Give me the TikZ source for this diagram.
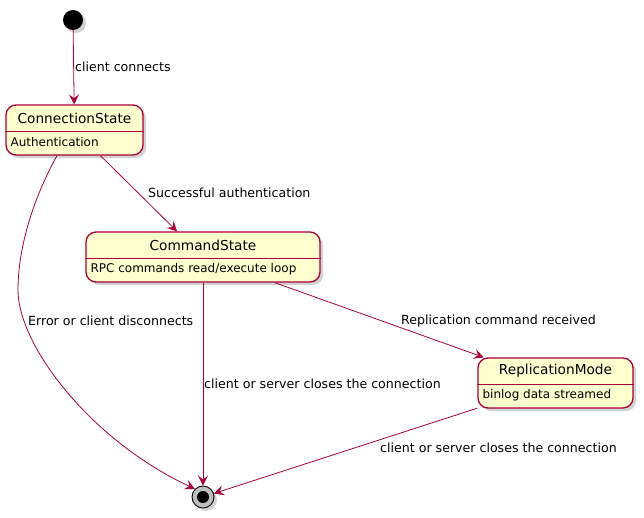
\documentclass[tikz,border=0pt]{standalone}
\usepackage{fontspec}
\setmainfont{DejaVu Sans}
\usetikzlibrary{arrows.meta,shadows}
\definecolor{plumred}{HTML}{A80036}
\definecolor{plumfill}{HTML}{FEFECE}

\begin{document}
\begin{tikzpicture}[x=1pt,y=-1pt,
    state/.style={draw=plumred,line width=1.3pt,fill=plumfill,rounded corners=10pt,
        minimum height=50pt,inner sep=0pt,
        drop shadow={shadow xshift=3pt,shadow yshift=-3pt,fill=black!35}},
    title/.style={font=\fontsize{13.7}{16}\selectfont,inner sep=0pt},
    body/.style={font=\fontsize{12}{14}\selectfont,inner sep=0pt},
    lbl/.style={font=\fontsize{12.6}{15}\selectfont,inner sep=0pt},
    edge/.style={draw=plumred,line width=0.8pt,-{Stealth[length=10pt,width=10pt,inset=4pt]}},
    startdot/.style={circle,fill=black,minimum size=20pt,inner sep=0pt,
        drop shadow={shadow xshift=3pt,shadow yshift=-3pt,fill=black!35}},
    stopdot/.style={circle,draw=black,line width=0.9pt,fill=black!25,minimum size=22pt,inner sep=0pt,
        drop shadow={shadow xshift=3pt,shadow yshift=-3pt,fill=black!35}}]
    \useasboundingbox (0,0) rectangle (644,517);

    \node[startdot] (start) at (73,20) {};
    \node[stopdot] (stop) at (203,497) {};
    \node[circle,fill=black,minimum size=12pt,inner sep=0pt] (stop-in) at (stop) {};

    \foreach \name/\cx/\cy/\w/\title/\body in {
        conn/74.5/130/137/ConnectionState/Authentication,
        cmd/203/257/234/CommandState/{RPC commands read/execute loop},
        repl/555.5/383/155/ReplicationMode/{binlog data streamed}} {
        \node[state,minimum width=\w pt] (\name) at (\cx,\cy) {};
        \node[title] (\name-title) at (\cx,\cy-12) {\title};
        \draw[plumred,line width=0.8pt] ([yshift=-1pt]\name.west) -- ([yshift=-1pt]\name.east);
        \node[body,anchor=west] (\name-body) at ([xshift=5pt,yshift=-12pt]\name.west) {\body};
    }

    \draw[edge] (start) -- (conn);
    \draw[edge] (conn) -- (cmd);
    \draw[edge] (cmd) -- (repl);
    \draw[edge] (cmd) -- (stop);
    \draw[edge] (repl) -- (stop);
    \draw[edge] ([xshift=-17.5pt]conn.south) .. controls (35,195) and (18,245) .. (18,290)
        .. controls (18,345) and (90,440) .. (stop.north west);

    \node[lbl,anchor=west] (lbl-connects) at (75,67) {client connects};
    \node[lbl,anchor=west] (lbl-auth) at (148,193) {Successful authentication};
    \node[lbl,anchor=west] (lbl-error) at (28,321) {Error or client disconnects};
    \node[lbl,anchor=west] (lbl-repl) at (401,321) {Replication command received};
    \node[lbl,anchor=west] (lbl-close) at (204,384) {client or server closes the connection};
    \node[lbl,anchor=west] (lbl-close2) at (380,448) {client or server closes the connection};
\end{tikzpicture}
\end{document}
